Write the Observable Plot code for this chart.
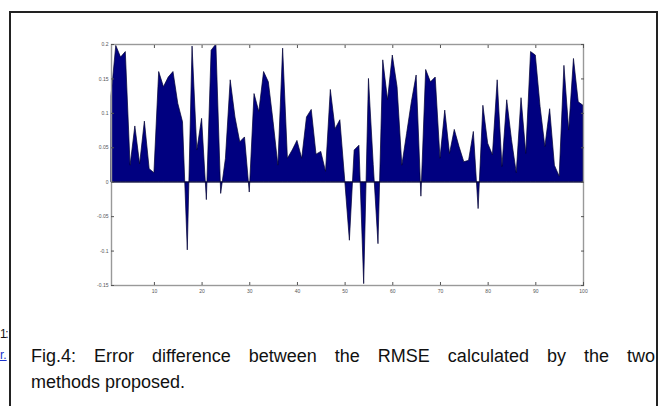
<!DOCTYPE html>
<html>
<head>
<meta charset="utf-8">
<script src="https://cdn.jsdelivr.net/npm/d3@7"></script>
<script src="https://cdn.jsdelivr.net/npm/@observablehq/plot@0.6"></script>
<style>
  html, body { margin: 0; padding: 0; background: #fff; }
  body { width: 663px; height: 406px; overflow: hidden; position: relative; font-family: "Liberation Sans", Arial, sans-serif; }
  #box { position: absolute; left: 9px; top: 11px; width: 649px; height: 420px; border: 2px solid #222; box-sizing: border-box; }
  #chart { position: absolute; left: 0; top: 0; }
  .cap { position: absolute; left: 31px; width: 624px; font-size: 18px; line-height: 26px; color: #111; white-space: nowrap; }
  #cap1 { top: 343px; text-align: justify; text-align-last: justify; white-space: normal; }
  #cap2 { top: 369px; text-align: left; }
  #side1 { position: absolute; left: 0px; top: 327px; font-size: 12px; letter-spacing: -1.5px; color: #111; white-space: nowrap; }
  #side2 { position: absolute; left: 0px; top: 348px; font-size: 12px; color: #1a33cc; text-decoration: underline; white-space: nowrap; }
</style>
</head>
<body>
<div id="box"></div>
<div id="chart"></div>
<div id="side1">1:</div>
<div id="side2">r.</div>
<div class="cap" id="cap1">Fig.4: Error difference between the RMSE calculated by the two</div>
<div class="cap" id="cap2">methods proposed.</div>
<script>
// Error difference values (sample 1..100)
const errorDiff = [
  0.125, 0.198, 0.181, 0.189, 0.024, 0.081, 0.026, 0.088, 0.019, 0.013,
  0.160, 0.138, 0.152, 0.160, 0.114, 0.087, -0.099, 0.197, 0.046, 0.092,
  -0.026, 0.191, 0.200, -0.017, 0.034, 0.148, 0.094, 0.058, 0.065, -0.015,
  0.128, 0.102, 0.160, 0.145, 0.087, 0.024, 0.194, 0.034, 0.046, 0.060,
  0.034, 0.094, 0.105, 0.040, 0.044, 0.015, 0.134, 0.077, 0.090, 0.004,
  -0.085, 0.046, 0.053, -0.148, 0.150, 0.025, -0.090, 0.177, 0.119, 0.184,
  0.138, 0.024, 0.070, 0.116, 0.155, -0.021, 0.163, 0.145, 0.152, 0.034,
  0.104, 0.041, 0.076, 0.051, 0.029, 0.031, 0.073, -0.039, 0.111, 0.056,
  0.039, 0.148, 0.022, 0.119, 0.061, 0.013, 0.122, 0.041, 0.189, 0.184,
  0.109, 0.051, 0.106, 0.024, 0.008, 0.169, 0.075, 0.179, 0.116, 0.111
];
const xTicks = [10, 20, 30, 40, 50, 60, 70, 80, 90, 100];
const yTicks = [-0.15, -0.1, -0.05, 0, 0.05, 0.1, 0.15, 0.2];

const data = errorDiff.map((v, i) => ({i: i + 1, v}));

const axisStyle = {fontSize: 5, color: "#555", tickSize: -3, tickPadding: 7, label: null};
const noText = () => "";

const chart = Plot.plot({
  width: 663,
  height: 300,
  marginLeft: 111,
  marginRight: 80,
  marginTop: 44,
  marginBottom: 15,
  style: {background: "transparent", fontFamily: "Liberation Sans, Arial, sans-serif"},
  x: {domain: [1, 100], label: null},
  y: {domain: [-0.15, 0.2], label: null},
  marks: [
    Plot.areaY(data, {x: "i", y: "v", fill: "#000080", stroke: "#000033", strokeWidth: 0.7}),
    Plot.ruleY([0], {stroke: "#000033", strokeWidth: 0.8}),
    Plot.frame({stroke: "#999", strokeWidth: 1.4}),
    Plot.axisX(xTicks, {anchor: "bottom", ...axisStyle, tickFormat: d => String(d)}),
    Plot.axisX(xTicks, {anchor: "top", ...axisStyle, tickFormat: noText}),
    Plot.axisY(yTicks, {anchor: "left", ...axisStyle, tickPadding: 6, tickFormat: d => String(d)}),
    Plot.axisY(yTicks, {anchor: "right", ...axisStyle, tickFormat: noText})
  ]
});
document.getElementById("chart").appendChild(chart);
</script>
</body>
</html>
